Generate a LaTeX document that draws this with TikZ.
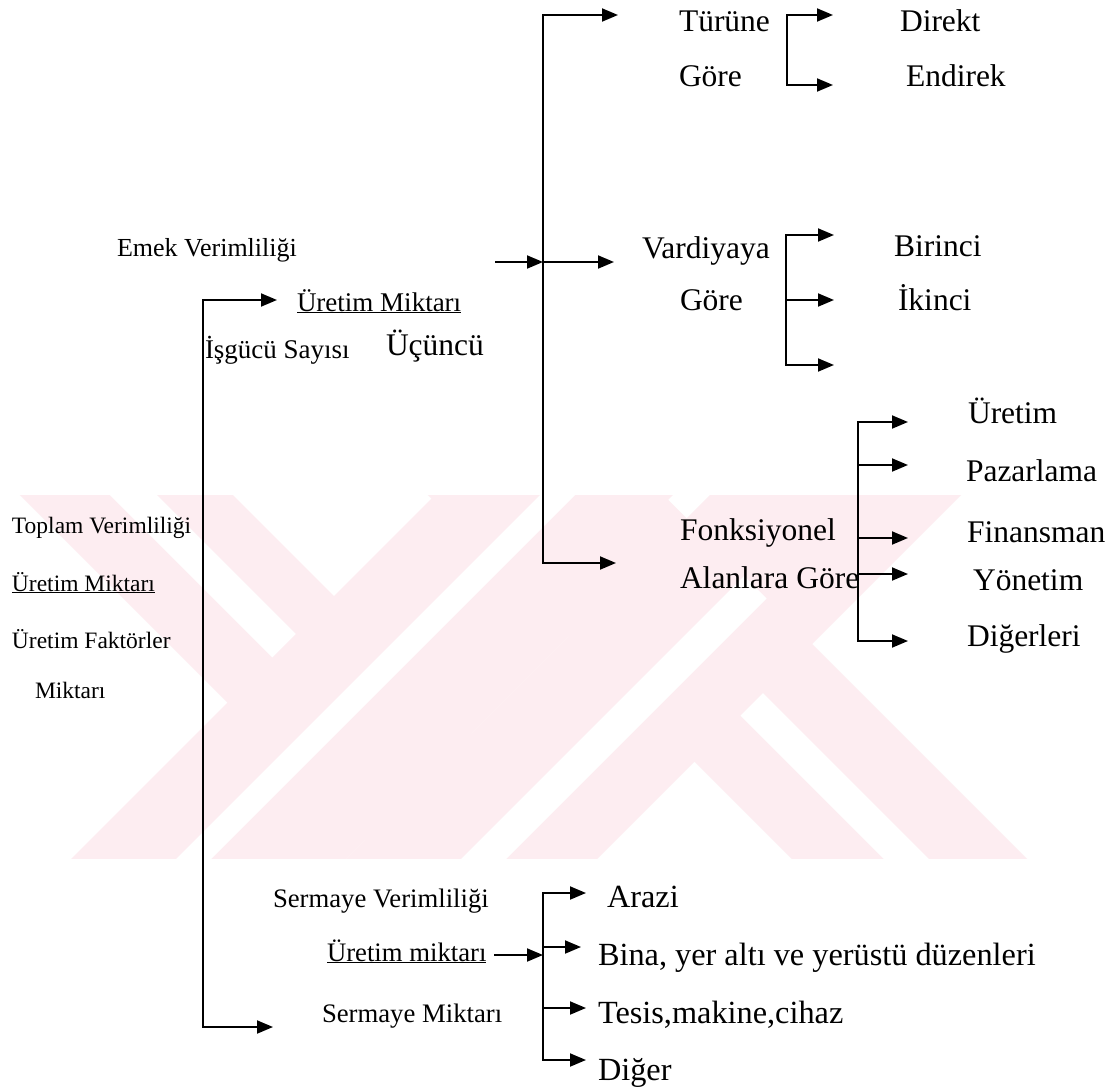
\documentclass[tikz,border=0pt]{standalone}
\usepackage{fontspec}
\setmainfont{Liberation Serif}
\usetikzlibrary{arrows.meta}
\definecolor{wmpink}{RGB}{253,237,241}
\begin{document}
\begin{tikzpicture}[x=1pt,y=-1pt,
  link/.style={line width=1.9pt,-{Triangle[length=16pt,width=13pt]}},
  lbl/.style={anchor=base west,inner sep=0pt,outer sep=0pt},
  big/.style={lbl,font=\fontsize{31.5}{36}\selectfont},
  wide/.style={lbl,font=\fontsize{32.3}{37}\selectfont},
  mid/.style={lbl,font=\fontsize{26.7}{31}\selectfont},
  small/.style={lbl,font=\fontsize{23.5}{28}\selectfont},
  wm/.style={fill=wmpink},
  wmcut/.style={fill=white}]
\useasboundingbox[fill=white] (0,0) rectangle (1120,1087);

% background emblem: striped crossing bands
\begin{scope}
  \clip (0,495) rectangle (1120,858);
  \fill[wm] (-75,400) -- (138,400) -- (688,950) -- (475,950) -- cycle;
  \fill[wmcut] (15,400) -- (62,400) -- (296,634) -- (272.5,657.5) -- cycle;
  \fill[wm] (530,400) -- (805,400) -- (255,950) -- (-20,950) -- cycle;
  \fill[wmcut] (668,500) -- (686.5,518.5) -- (805,400) -- (768,400) -- cycle;
  \fill[wm] (805,400) -- (1056,400) -- (506,950) -- (255,950) -- cycle;
  \fill[wm] (333,400) -- (568,400) -- (1118,950) -- (883,950) -- cycle;
  \fill[wmcut] (635,400) -- (670,400) -- (120,950) -- (85,950) -- cycle;
  \fill[wmcut] (744,576) -- (766.5,598.5) -- (415,950) -- (370,950) -- cycle;
  \fill[wmcut] (740.5,715.5) -- (763,693) -- (1020,950) -- (975,950) -- cycle;
\end{scope}

% labels
\node[small] (toplam) at (12,533) {Toplam Verimliliği};
\node[small] (uretimL) at (12,591) {\underline{Üretim Miktarı}};
\node[small] (faktor) at (12,648) {Üretim Faktörler};
\node[small] (miktarL) at (35,698) {Miktarı};

\node[lbl,font=\fontsize{26}{30}\selectfont] (emek) at (117,256) {Emek Verimliliği};
\node[lbl,font=\fontsize{27}{31}\selectfont] (uretimE) at (297,311) {\underline{Üretim Miktarı}};
\node[lbl,font=\fontsize{27}{31}\selectfont] (isgucu) at (205,358) {İşgücü Sayısı};
\node[big] (ucuncu) at (386,355) {Üçüncü};

\node[big] (turune) at (679,31) {Türüne};
\node[big] (gore1) at (679,86) {Göre};
\node[big] (direkt) at (900,31) {Direkt};
\node[big] (endirek) at (906,86) {Endirek};

\node[big] (vardiya) at (642,258) {Vardiyaya};
\node[big] (gore2) at (680,310) {Göre};
\node[big] (birinci) at (894,256) {Birinci};
\node[big] (ikinci) at (898,310) {İkinci};

\node[big] (fonk) at (680,540) {Fonksiyonel};
\node[big] (alan) at (680,588) {Alanlara Göre};
\node[big] (uretimF) at (968,423) {Üretim};
\node[big] (pazar) at (966,481) {Pazarlama};
\node[big] (finans) at (967,542) {Finansman};
\node[big] (yonetim) at (973,590) {Yönetim};
\node[big] (digerleri) at (967,646) {Diğerleri};

\node[mid] (sermayeV) at (273,907) {Sermaye Verimliliği};
\node[mid] (uretimS) at (327,961) {\underline{Üretim miktarı}};
\node[mid] (sermayeM) at (322,1022) {Sermaye Miktarı};
\node[wide] (arazi) at (607,907) {Arazi};
\node[wide] (bina) at (598,965) {Bina, yer altı ve yerüstü düzenleri};
\node[wide] (tesis) at (598,1023) {Tesis,makine,cihaz};
\node[wide] (diger) at (598,1080) {Diğer};

% junction points and arrow ends
\coordinate (spA) at (543,262);
\coordinate (spAtop) at (618,15);
\coordinate (spAmid) at (614,262);
\coordinate (spAbot) at (616,563);
\coordinate (emekOut) at (495,262);

\coordinate (brT) at (787,50);
\coordinate (brTa) at (833,15);
\coordinate (brTb) at (833,85);

\coordinate (brV) at (786,300);
\coordinate (brVa) at (834,235);
\coordinate (brVb) at (834,300);
\coordinate (brVc) at (834,365);

\coordinate (brF) at (858,538);
\coordinate (brFa) at (908,422);
\coordinate (brFb) at (908,465);
\coordinate (brFc) at (908,538);
\coordinate (brFd) at (908,574);
\coordinate (brFe) at (908,641);

\coordinate (spB) at (203,600);
\coordinate (spBtop) at (277,300);
\coordinate (spBbot) at (273,1027);

\coordinate (brS) at (543,955);
\coordinate (sermIn) at (494,955);
\coordinate (brSa) at (586,893);
\coordinate (brSb) at (581,947);
\coordinate (brSc) at (586,1008);
\coordinate (brSd) at (586,1060);

% connectors
\draw[link] (spA) |- (spAtop);
\draw[link] (spA) |- (spAbot);
\draw[link] (spA) -- (spAmid);
\draw[link] (emekOut) -- (spA);

\draw[link] (brT) |- (brTa);
\draw[link] (brT) |- (brTb);

\draw[link] (brV) |- (brVa);
\draw[link] (brV) -- (brVb);
\draw[link] (brV) |- (brVc);

\draw[link] (brF) |- (brFa);
\draw[link] (brF) |- (brFb);
\draw[link] (brF) -- (brFc);
\draw[link] (brF) |- (brFd);
\draw[link] (brF) |- (brFe);

\draw[link] (spB) |- (spBtop);
\draw[link] (spB) |- (spBbot);

\draw[link] (sermIn) -- (brS);
\draw[link] (brS) |- (brSa);
\draw[link] (brS) |- (brSb);
\draw[link] (brS) |- (brSc);
\draw[link] (brS) |- (brSd);
\end{tikzpicture}
\end{document}
